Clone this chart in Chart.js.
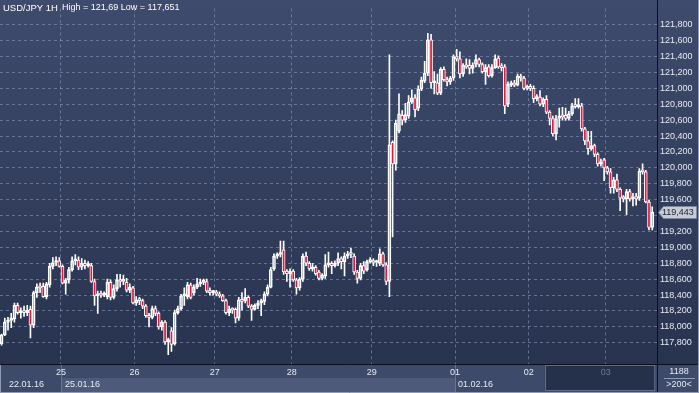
<!DOCTYPE html>
<html>
<head>
<meta charset="utf-8">
<script src="https://cdn.jsdelivr.net/npm/chart.js"></script>
<style>
  html, body { margin: 0; padding: 0; background: #2b3653; }
  #wrap { width: 699px; height: 393px; }
</style>
</head>
<body>
<div id="wrap"><canvas id="chart" width="699" height="393"></canvas></div>
<script>
/* ---------- data (USD/JPY 1H candles) ---------- */
const openP = [
  117.79,117.90,118.06,118.08,118.10,118.27,118.18,118.19,118.18,118.22,
  118.02,118.43,118.50,118.51,118.38,118.53,118.76,118.81,118.83,118.76,
  118.55,118.59,118.72,118.83,118.84,118.75,118.80,118.77,118.77,118.57,
  118.39,118.41,118.40,118.38,118.56,118.37,118.48,118.59,118.57,118.56,
  118.46,118.49,118.30,118.34,118.33,118.26,118.14,118.12,118.23,118.17,
  118.00,118.06,117.81,117.95,117.79,118.18,118.23,118.39,118.38,118.53,
  118.43,118.50,118.54,118.56,118.57,118.45,118.43,118.44,118.41,118.39,
  118.33,118.18,118.22,118.22,118.11,118.34,118.33,118.37,118.26,118.22,
  118.27,118.30,118.32,118.41,118.50,118.73,118.89,118.91,118.97,118.70,
  118.67,118.70,118.59,118.49,118.60,118.89,118.80,118.73,118.75,118.69,
  118.61,118.64,118.78,118.80,118.77,118.80,118.86,118.82,118.89,118.92,
  118.89,118.69,118.61,118.77,118.72,118.82,118.83,118.81,118.80,118.92,
  118.78,118.57,120.32,120.05,120.46,120.66,120.60,120.65,120.83,120.88,
  120.75,120.99,121.09,121.19,121.61,121.07,121.07,120.94,121.24,121.11,
  121.08,121.13,121.40,121.37,121.18,121.29,121.29,121.25,121.30,121.36,
  121.30,121.21,121.27,121.16,121.26,121.38,121.27,121.27,120.80,121.04,
  121.07,121.04,121.15,121.13,121.00,121.02,121.00,120.87,120.89,120.80,
  120.86,120.70,120.62,120.43,120.62,120.65,120.66,120.62,120.68,120.78,
  120.77,120.78,120.49,120.34,120.24,120.28,120.17,120.05,120.10,120.00,
  119.95,119.75,119.85,119.73,119.62,119.61,119.70,119.61,119.64,119.62,
  119.96,119.95,119.57,119.25
];
const highP = [
  117.91,118.11,118.12,118.17,118.30,118.30,118.24,118.26,118.27,118.26,
  118.45,118.54,118.55,118.55,118.56,118.80,118.87,118.88,118.87,118.78,
  118.61,118.75,118.88,118.91,118.88,118.86,118.84,118.82,118.80,118.60,
  118.45,118.45,118.44,118.60,118.59,118.53,118.66,118.66,118.65,118.61,
  118.54,118.51,118.38,118.37,118.35,118.28,118.17,118.26,118.26,118.19,
  118.08,118.08,117.86,117.99,118.21,118.26,118.41,118.49,118.56,118.55,
  118.53,118.61,118.60,118.60,118.60,118.49,118.46,118.46,118.44,118.41,
  118.35,118.26,118.24,118.24,118.37,118.43,118.48,118.39,118.28,118.29,
  118.33,118.35,118.44,118.53,118.75,118.92,118.93,119.08,119.08,118.72,
  118.73,118.72,118.61,118.62,118.92,118.94,118.82,118.80,118.77,118.71,
  118.67,118.91,118.94,118.82,118.83,118.93,118.88,118.93,118.95,118.99,
  118.92,118.71,118.80,118.82,118.84,118.87,118.86,118.84,118.98,118.94,
  118.81,121.42,120.34,120.60,120.93,120.72,120.81,120.91,120.98,120.92,
  121.03,121.14,121.34,121.69,121.68,121.21,121.18,121.26,121.27,121.14,
  121.15,121.42,121.49,121.46,121.31,121.37,121.36,121.32,121.42,121.38,
  121.32,121.30,121.30,121.30,121.42,121.41,121.31,121.30,121.08,121.09,
  121.10,121.18,121.18,121.15,121.04,121.05,121.03,120.92,120.97,120.88,
  120.91,120.72,120.65,120.66,120.75,120.76,120.75,120.71,120.81,120.87,
  120.87,120.81,120.51,120.46,120.46,120.30,120.19,120.11,120.12,120.02,
  119.99,119.88,119.92,119.75,119.65,119.73,119.73,119.68,119.68,119.99,
  120.05,119.97,119.59,119.51
];
const lowP = [
  117.77,117.89,117.96,117.99,118.06,118.16,118.11,118.13,118.14,117.86,
  117.99,118.37,118.43,118.37,118.35,118.50,118.73,118.77,118.75,118.54,
  118.41,118.55,118.70,118.78,118.72,118.72,118.73,118.75,118.56,118.27,
  118.17,118.37,118.38,118.35,118.34,118.35,118.45,118.50,118.53,118.44,
  118.43,118.29,118.27,118.28,118.23,118.12,118.00,118.10,118.14,117.97,
  117.96,117.78,117.651,117.69,117.77,118.16,118.21,118.27,118.35,118.35,
  118.40,118.48,118.51,118.53,118.43,118.40,118.40,118.39,118.37,118.32,
  118.16,118.14,118.17,118.05,118.08,118.21,118.30,118.24,118.08,118.21,
  118.23,118.14,118.28,118.39,118.49,118.71,118.86,118.88,118.66,118.57,
  118.50,118.57,118.41,118.46,118.57,118.77,118.71,118.70,118.65,118.59,
  118.59,118.61,118.75,118.67,118.75,118.77,118.73,118.64,118.86,118.87,
  118.66,118.55,118.59,118.67,118.70,118.80,118.77,118.76,118.77,118.76,
  118.53,118.38,119.13,119.97,120.44,120.54,120.57,120.62,120.81,120.64,
  120.72,120.97,121.07,121.16,121.00,120.93,120.92,120.92,121.09,121.03,
  121.05,121.10,121.34,121.13,121.15,121.25,121.18,121.19,121.27,121.27,
  121.19,121.05,121.14,121.14,121.25,121.25,121.22,120.68,120.77,121.02,
  121.02,121.03,121.09,120.98,120.98,120.97,120.82,120.84,120.78,120.77,
  120.68,120.54,120.40,120.35,120.51,120.60,120.60,120.60,120.66,120.75,
  120.75,120.46,120.29,120.17,120.22,120.14,120.02,120.02,119.84,119.92,
  119.68,119.68,119.70,119.46,119.57,119.41,119.58,119.52,119.53,119.59,
  119.92,119.56,119.22,119.22
];
const closeP = [
  117.90,118.06,118.08,118.11,118.27,118.18,118.19,118.18,118.21,118.02,
  118.43,118.50,118.49,118.38,118.54,118.76,118.81,118.82,118.76,118.55,
  118.59,118.72,118.83,118.84,118.75,118.80,118.77,118.78,118.57,118.39,
  118.41,118.40,118.41,118.56,118.37,118.48,118.59,118.57,118.60,118.46,
  118.50,118.30,118.34,118.33,118.26,118.14,118.12,118.23,118.17,118.00,
  118.06,117.81,117.84,117.78,118.18,118.23,118.39,118.40,118.53,118.37,
  118.50,118.54,118.56,118.57,118.45,118.43,118.44,118.41,118.39,118.33,
  118.18,118.22,118.21,118.11,118.34,118.32,118.37,118.26,118.22,118.27,
  118.30,118.33,118.41,118.50,118.72,118.89,118.91,118.93,118.69,118.67,
  118.70,118.59,118.49,118.60,118.89,118.80,118.73,118.75,118.67,118.61,
  118.65,118.78,118.80,118.77,118.80,118.86,118.82,118.89,118.92,118.91,
  118.69,118.61,118.77,118.70,118.82,118.84,118.81,118.82,118.92,118.78,
  118.57,120.29,120.05,120.56,120.68,120.60,120.67,120.83,120.88,120.73,
  120.99,121.10,121.19,121.61,121.07,121.08,120.94,121.24,121.11,121.08,
  121.13,121.40,121.37,121.18,121.29,121.27,121.25,121.29,121.36,121.30,
  121.21,121.26,121.16,121.26,121.37,121.27,121.26,120.78,121.05,121.07,
  121.04,121.15,121.13,121.00,121.02,121.00,120.87,120.89,120.80,120.86,
  120.70,120.62,120.43,120.62,120.65,120.64,120.62,120.68,120.78,120.77,
  120.78,120.49,120.34,120.24,120.28,120.17,120.05,120.08,120.00,119.95,
  119.75,119.85,119.73,119.62,119.61,119.70,119.61,119.64,119.61,119.96,
  119.95,119.57,119.25,119.443
];
// day boundaries (between candles) and their labels
const dayStarts = [18.5, 41.5, 66.5, 90.5, 115.5, 141.5, 164.5, 188.5];
const dayLabels = ['25', '26', '27', '28', '29', '01', '02', '03'];
const dateLabels = ['22.01.16', '25.01.16', '01.02.16'];
const priceTicks = [
  117.8, 118.0, 118.2, 118.4, 118.6, 118.8, 119.0, 119.2, 119.4, 119.6, 119.8,
  120.0, 120.2, 120.4, 120.6, 120.8, 121.0, 121.2, 121.4, 121.6, 121.8
];

/* ---------- look ---------- */
const FONT = "'Liberation Sans', Arial, sans-serif";
const TXT = '#e6eaf2';
const GRID = 'rgba(135,152,192,0.6)';
const RED = '#e3173f';
const fmt = v => v.toFixed(3).replace('.', ',');

const bodies = openP.map((o, i) => ({ x: i, y: [Math.min(o, closeP[i]), Math.max(o, closeP[i])] }));
const upperWick = highP.map((h, i) => ({ x: i, y: [Math.max(openP[i], closeP[i]), h] }));
const lowerWick = lowP.map((l, i) => ({ x: i, y: [l, Math.min(openP[i], closeP[i])] }));

const chrome = {
  id: 'chrome',
  beforeDraw(chart) {
    const { ctx, chartArea: a, scales: { x } } = chart;
    const W = chart.width, H = chart.height;
    ctx.save();
    const g = ctx.createLinearGradient(0, 0, 0, a.bottom);
    g.addColorStop(0, '#3e4b6c');
    g.addColorStop(1, '#28334f');
    ctx.fillStyle = g;
    ctx.fillRect(0, 0, W, a.bottom);
    // bottom band
    ctx.fillStyle = '#3d4a69';
    ctx.fillRect(0, a.bottom, W, H - a.bottom);
    const rowY = a.bottom + 14;
    const p25 = x.getPixelForValue(dayStarts[0]);
    const p01 = x.getPixelForValue(dayStarts[5]);
    ctx.fillStyle = '#4d5a79';
    ctx.fillRect(p25, rowY, p01 - p25, H - rowY - 1);
    const nav = x.getPixelForValue(169.5);
    ctx.fillStyle = '#25314b';
    ctx.fillRect(nav, a.bottom + 1, a.right - nav - 2, H - a.bottom - 3);
    ctx.strokeStyle = '#5f6c8c';
    ctx.lineWidth = 1;
    ctx.strokeRect(Math.round(nav) + 0.5, a.bottom + 1.5, a.right - nav - 3, H - a.bottom - 4);
    // separators
    ctx.strokeStyle = '#66749a';
    [p25, p01].forEach(p => {
      ctx.beginPath();
      ctx.moveTo(Math.round(p) + 0.5, a.bottom);
      ctx.lineTo(Math.round(p) + 0.5, H);
      ctx.stroke();
    });
    // date row
    ctx.font = '9px ' + FONT;
    ctx.fillStyle = TXT;
    ctx.textBaseline = 'middle';
    ctx.textAlign = 'left';
    ctx.fillText(dateLabels[0], 9, rowY + 6.5);
    ctx.fillText(dateLabels[1], p25 + 4, rowY + 6.5);
    ctx.fillText(dateLabels[2], p01 + 3, rowY + 6.5);
    ctx.restore();
  },
  afterDraw(chart) {
    const { ctx, chartArea: a, scales: { y } } = chart;
    const W = chart.width, H = chart.height;
    ctx.save();
    // frame lines
    ctx.strokeStyle = '#0c101a';
    ctx.lineWidth = 1;
    ctx.beginPath();
    ctx.moveTo(0, a.bottom + 0.5); ctx.lineTo(W, a.bottom + 0.5);
    ctx.moveTo(a.right + 0.5, 0); ctx.lineTo(a.right + 0.5, H);
    ctx.stroke();
    ctx.strokeStyle = '#8e9ab6';
    ctx.beginPath();
    ctx.moveTo(0, H - 0.5); ctx.lineTo(W, H - 0.5);
    ctx.moveTo(0.5, a.bottom + 1); ctx.lineTo(0.5, H);
    ctx.moveTo(W - 0.5, 0); ctx.lineTo(W - 0.5, H);
    ctx.stroke();
    // corner box
    ctx.font = '9px ' + FONT;
    ctx.fillStyle = TXT;
    ctx.textAlign = 'center';
    ctx.textBaseline = 'middle';
    const cx = (a.right + W) / 2 + 1;
    ctx.fillText('1188', cx, a.bottom + 8);
    ctx.fillText('>200<', cx, a.bottom + 21);
    ctx.strokeStyle = '#8e9ab6';
    ctx.beginPath();
    ctx.moveTo(a.right + 7, a.bottom + 14.5); ctx.lineTo(W - 4, a.bottom + 14.5);
    ctx.stroke();
    // title
    ctx.textAlign = 'left';
    ctx.fillStyle = '#ffffff';
    ctx.font = '9.5px ' + FONT;
    ctx.fillText('USD/JPY 1H', 3, 8);
    ctx.font = '9px ' + FONT;
    ctx.fillText('High = 121,69 Low = 117,651', 62, 8);
    // last price tag
    const last = closeP[closeP.length - 1];
    const py = Math.round(y.getPixelForValue(last)) + 0.5;
    const x0 = a.right + 1.5, x1 = W - 2.5;
    ctx.beginPath();
    ctx.moveTo(x0, py);
    ctx.lineTo(x0 + 5, py - 6);
    ctx.lineTo(x1, py - 6);
    ctx.lineTo(x1, py + 6);
    ctx.lineTo(x0 + 5, py + 6);
    ctx.closePath();
    ctx.fillStyle = '#c6cbd5';
    ctx.fill();
    ctx.strokeStyle = '#7d879c';
    ctx.stroke();
    ctx.fillStyle = '#1b2232';
    ctx.fillText(fmt(last), a.right + 5, py + 0.5);
    ctx.restore();
  }
};

new Chart(document.getElementById('chart'), {
  type: 'bar',
  data: {
    datasets: [
      { data: upperWick, grouped: false, barThickness: 1, backgroundColor: '#ffffff', borderWidth: 0, order: 3 },
      { data: lowerWick, grouped: false, barThickness: 1, backgroundColor: '#ffffff', borderWidth: 0, order: 2 },
      {
        data: bodies, grouped: false, barThickness: 3, minBarLength: 2,
        borderWidth: 1, borderSkipped: false, borderColor: '#ffffff',
        backgroundColor: c => closeP[c.dataIndex] < openP[c.dataIndex] ? RED : 'rgba(0,0,0,0)',
        order: 1
      }
    ]
  },
  options: {
    responsive: false,
    animation: false,
    devicePixelRatio: 1,
    layout: { padding: 0, autoPadding: false },
    plugins: { legend: { display: false }, tooltip: { enabled: false } },
    scales: {
      x: {
        type: 'linear', min: -0.5, max: 204.5, offset: false,
        afterBuildTicks: s => { s.ticks = dayStarts.map(v => ({ value: v })); },
        afterFit: s => { s.height = 29; },
        grid: { color: GRID, drawTicks: false, offset: false },
        border: { display: false, dash: [3, 3] },
        ticks: {
          autoSkip: false, maxRotation: 0, padding: 3,
          font: { size: 9, family: FONT },
          color: c => (c.tick && c.tick.value === dayStarts[7]) ? '#6c7894' : TXT,
          callback: (v, i) => dayLabels[i]
        }
      },
      y: {
        position: 'right', min: 117.533, max: 122.005,
        afterBuildTicks: s => { s.ticks = priceTicks.map(v => ({ value: v })); },
        afterFit: s => { s.width = 42; },
        grid: { color: GRID, drawTicks: false },
        border: { display: false, dash: [3, 3] },
        ticks: {
          padding: 3, color: TXT,
          font: { size: 9, family: FONT },
          callback: v => Math.abs(v - 119.4) < 1e-6 ? '' : fmt(v)
        }
      }
    }
  },
  plugins: [chrome]
});
</script>
</body>
</html>
